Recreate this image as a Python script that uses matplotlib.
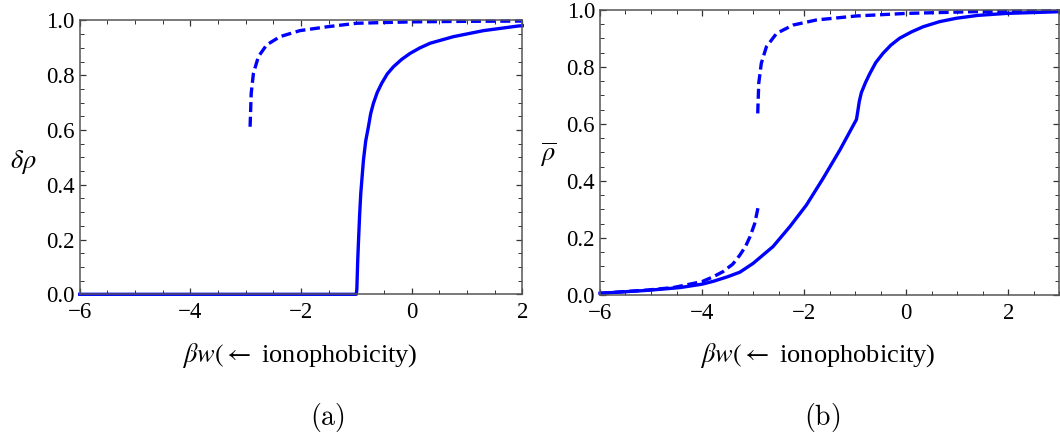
import matplotlib.pyplot as plt
from matplotlib.ticker import MultipleLocator, FormatStrFormatter

plt.rcParams['font.family'] = ['Liberation Serif', 'DejaVu Serif']
plt.rcParams['mathtext.fontset'] = 'stix'
plt.rcParams['axes.unicode_minus'] = True

# (a) order parameter delta rho
a_solid_x = [-6.0, -1.0, -0.99, -0.975, -0.962, -0.94, -0.919, -0.871, -0.83, -0.781, -0.74, -0.69,
             -0.62, -0.54, -0.44, -0.329, -0.18, -0.027, 0.15, 0.335, 0.756, 1.30, 1.93, 2.0]
a_solid_y = [0.0, 0.0, 0.02, 0.12, 0.186, 0.29, 0.369, 0.49, 0.56, 0.612, 0.66, 0.698,
             0.738, 0.771, 0.805, 0.831, 0.858, 0.880, 0.900, 0.917, 0.941, 0.963, 0.980, 0.981]
a_dash_x = [-2.92, -2.90, -2.86, -2.77, -2.62, -2.38, -2.02, -1.53, -0.99, 0.0, 1.0, 2.0]
a_dash_y = [0.612, 0.734, 0.807, 0.868, 0.911, 0.941, 0.963, 0.977, 0.990, 0.995, 0.997, 0.998]

# (b) mean density rho bar
b_solid_x = [-6.0, -5.09, -4.43, -4.0, -3.78, -3.5, -3.26, -3.0, -2.61, -2.28, -1.955, -1.63, -1.30,
             -0.976, -0.95, -0.92, -0.88, -0.80, -0.72, -0.60, -0.456, -0.30, -0.13, 0.1, 0.327,
             0.65, 0.98, 1.4, 1.96, 3.0]
b_solid_y = [0.006, 0.016, 0.026, 0.038, 0.048, 0.064, 0.080, 0.111, 0.170, 0.240, 0.316, 0.409, 0.509,
             0.616, 0.645, 0.680, 0.710, 0.745, 0.775, 0.815, 0.848, 0.877, 0.901, 0.923, 0.941,
             0.959, 0.971, 0.981, 0.988, 0.994]
b_dash_lo_x = [-6.0, -5.09, -4.57, -4.43, -4.0, -3.78, -3.59, -3.4, -3.26, -3.15, -3.06, -2.97, -2.90]
b_dash_lo_y = [0.006, 0.017, 0.026, 0.031, 0.047, 0.064, 0.082, 0.108, 0.140, 0.170, 0.205, 0.250, 0.310]
b_dash_hi_x = [-2.91, -2.89, -2.84, -2.74, -2.54, -2.22, -1.76, -0.98, 0.0, 1.30, 3.0]
b_dash_hi_y = [0.637, 0.743, 0.813, 0.871, 0.918, 0.947, 0.965, 0.979, 0.988, 0.994, 0.997]

blue = '#0000ff'
lw = 2.4
dash = (3.0, 1.4)

fig = plt.figure(figsize=(10.6, 4.38), dpi=100)
ax1 = fig.add_axes([0.0752, 0.3281, 0.4175, 0.6251])
ax2 = fig.add_axes([0.566, 0.3265, 0.4335, 0.6507])

ax1.plot(a_solid_x, a_solid_y, color=blue, lw=lw)
ax1.plot(a_dash_x, a_dash_y, color=blue, lw=lw, dashes=dash)
ax1.set_xlim(-6, 2)

ax2.plot(b_solid_x, b_solid_y, color=blue, lw=lw)
ax2.plot(b_dash_lo_x, b_dash_lo_y, color=blue, lw=lw, dashes=dash)
ax2.plot(b_dash_hi_x, b_dash_hi_y, color=blue, lw=lw, dashes=dash)
ax2.set_xlim(-6, 3)

for ax in (ax1, ax2):
    ax.set_ylim(0, 1)
    ax.xaxis.set_major_locator(MultipleLocator(2))
    ax.xaxis.set_minor_locator(MultipleLocator(0.5))
    ax.yaxis.set_major_locator(MultipleLocator(0.2))
    ax.yaxis.set_minor_locator(MultipleLocator(0.05))
    ax.yaxis.set_major_formatter(FormatStrFormatter('%.1f'))
    ax.tick_params(which='both', direction='in', top=True, right=True,
                   color='#333333', labelsize=16.5)
    ax.tick_params(axis='x', pad=5.5)
    ax.tick_params(axis='y', pad=3.5)
    ax.tick_params(which='major', length=4.5, width=0.9)
    ax.tick_params(which='minor', length=2.6, width=0.7)
    for s in ax.spines.values():
        s.set_color('#555555')
        s.set_linewidth(1.1)
    for line in ax.get_lines():
        line.set_clip_on(False)

fig.text(23 / 1060, 1 - 162 / 438, r'$\delta\rho$', fontsize=19, ha='center', va='center')
fig.text(548 / 1060, 1 - 155 / 438, r'$\overline{\rho}$', fontsize=19, ha='center', va='center')

xlab = r'$\beta w(\leftarrow$ ionophobicity)'
fig.text(300 / 1060, 1 - 355 / 438, xlab, fontsize=19, ha='center', va='center')
fig.text(818 / 1060, 1 - 355 / 438, xlab, fontsize=19, ha='center', va='center')
fig.text(327 / 1060, 1 - 417 / 438, r'$\mathrm{(a)}$', fontsize=20, ha='center', va='center',
         math_fontfamily='cm')
fig.text(822 / 1060, 1 - 417 / 438, r'$\mathrm{(b)}$', fontsize=20, ha='center', va='center',
         math_fontfamily='cm')

fig.savefig('out.png', dpi=100)
